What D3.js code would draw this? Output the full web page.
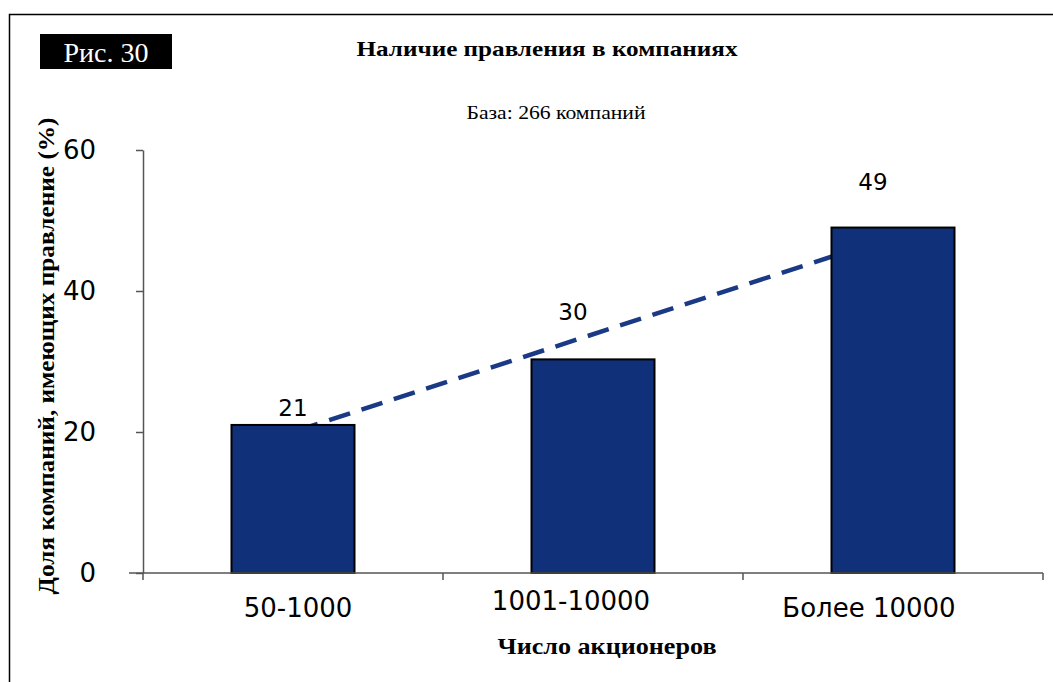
<!DOCTYPE html>
<html>
<head>
<meta charset="utf-8">
<script src="https://cdn.jsdelivr.net/npm/d3@7"></script>
<style>
  body { margin: 0; background: #fff; }
  svg { display: block; }
</style>
</head>
<body>
<svg width="1053" height="682"></svg>
<script>
// data
const categories = ["50-1000", "1001-10000", "Более 10000"];
const values = [21, 30.3, 49];
const yTicks = [0, 20, 40, 60];

const svg = d3.select("svg");
const barColor = "#10307a";
const lineColor = "#1a3a85";
const serif = "'Liberation Serif', 'Times New Roman', serif";
const sans = "'DejaVu Sans', Verdana, sans-serif";

const plot = { left: 143, right: 1043, top: 150, bottom: 573 };

// frame, clipped on the right and bottom like the scan
svg.append("rect")
  .attr("x", 9.5).attr("y", 14.5)
  .attr("width", 1100).attr("height", 700)
  .attr("fill", "none").attr("stroke", "#000").attr("stroke-width", 1.5);

// figure tag
svg.append("rect").attr("x", 40).attr("y", 34).attr("width", 132).attr("height", 35).attr("fill", "#000");
svg.append("text").attr("x", 106).attr("y", 62).attr("text-anchor", "middle")
  .attr("font-family", serif).attr("font-size", 28).attr("fill", "#fff")
  .text("Рис. 30");

svg.append("text").attr("x", 547).attr("y", 56).attr("text-anchor", "middle")
  .attr("font-family", serif).attr("font-weight", "bold").attr("font-size", 21)
  .attr("textLength", 381).attr("lengthAdjust", "spacingAndGlyphs")
  .text("Наличие правления в компаниях");

svg.append("text").attr("x", 556).attr("y", 119).attr("text-anchor", "middle")
  .attr("font-family", serif).attr("font-size", 18)
  .attr("textLength", 179).attr("lengthAdjust", "spacingAndGlyphs")
  .text("База: 266 компаний");

const x = d3.scaleBand().domain(categories).range([plot.left, plot.right]).paddingInner(0).paddingOuter(0);
const y = d3.scaleLinear().domain([0, 60]).range([plot.bottom, plot.top]);
const barW = 123;

// y axis
const yAxis = svg.append("g").attr("transform", `translate(${plot.left},0)`)
  .call(d3.axisLeft(y).tickValues(yTicks).tickSize(7).tickPadding(40).tickSizeOuter(0));
yAxis.select(".domain").attr("stroke", "#555").attr("stroke-width", 1.5);
yAxis.selectAll(".tick line").attr("stroke", "#555").attr("stroke-width", 1.5);
yAxis.selectAll(".tick text").attr("font-family", sans).attr("font-size", 26).attr("fill", "#000");

// trend line (linear fit) behind bars
const idx = values.map((d, i) => i);
const mx = d3.mean(idx), my = d3.mean(values);
const slope = d3.sum(idx, i => (i - mx) * (values[i] - my)) / d3.sum(idx, i => (i - mx) ** 2);
const fit = i => my + slope * (i - mx);
const cx = c => x(c) + x.bandwidth() / 2;
svg.append("line")
  .attr("x1", cx(categories[0])).attr("y1", y(fit(0)) - 4)
  .attr("x2", cx(categories[2])).attr("y2", y(fit(2)) - 2)
  .attr("stroke", lineColor).attr("stroke-width", 4.5)
  .attr("stroke-dasharray", "22,12").attr("stroke-dashoffset", -4);

// bars
svg.selectAll("rect.bar").data(values).enter().append("rect")
  .attr("class", "bar")
  .attr("x", (d, i) => cx(categories[i]) - barW / 2)
  .attr("y", d => y(d))
  .attr("width", barW)
  .attr("height", d => y(0) - y(d))
  .attr("fill", barColor).attr("stroke", "#000").attr("stroke-width", 2);

// x axis
const xAxis = svg.append("g").attr("transform", `translate(0,${plot.bottom})`);
xAxis.append("line").attr("x1", 129).attr("x2", plot.right).attr("stroke", "#555").attr("stroke-width", 1.5);
const bounds = [...categories.map(c => x(c)), plot.right];
xAxis.selectAll("line.tk").data(bounds).enter().append("line")
  .attr("class", "tk").attr("x1", d => d).attr("x2", d => d).attr("y1", 0).attr("y2", 7)
  .attr("stroke", "#555").attr("stroke-width", 1.5);

// label nudges to mimic the original placement
const catDx = [5, -22, -24];
const catDy = [0, -7, 0];
svg.selectAll("text.cat").data(categories).enter().append("text")
  .attr("class", "cat")
  .attr("x", (d, i) => cx(d) + catDx[i])
  .attr("y", (d, i) => 617 + catDy[i])
  .attr("text-anchor", "middle")
  .attr("font-family", sans).attr("font-size", 26)
  .text(d => d);

const valDx = [0, -20, -20];
const valDy = [-9, -39, -38];
svg.selectAll("text.val").data(values).enter().append("text")
  .attr("class", "val")
  .attr("x", (d, i) => cx(categories[i]) + valDx[i])
  .attr("y", (d, i) => y(d) + valDy[i])
  .attr("text-anchor", "middle")
  .attr("font-family", sans).attr("font-size", 23)
  .text(d => d3.format(".0f")(d));

// axis titles
svg.append("text").attr("x", 607).attr("y", 654).attr("text-anchor", "middle")
  .attr("font-family", serif).attr("font-weight", "bold").attr("font-size", 24)
  .attr("textLength", 219).attr("lengthAdjust", "spacingAndGlyphs")
  .text("Число акционеров");

svg.append("text")
  .attr("transform", "translate(54,356) rotate(-90)")
  .attr("text-anchor", "middle")
  .attr("font-family", serif).attr("font-weight", "bold").attr("font-size", 24)
  .attr("textLength", 477).attr("lengthAdjust", "spacingAndGlyphs")
  .text("Доля компаний, имеющих правление (%)");
</script>
</body>
</html>
